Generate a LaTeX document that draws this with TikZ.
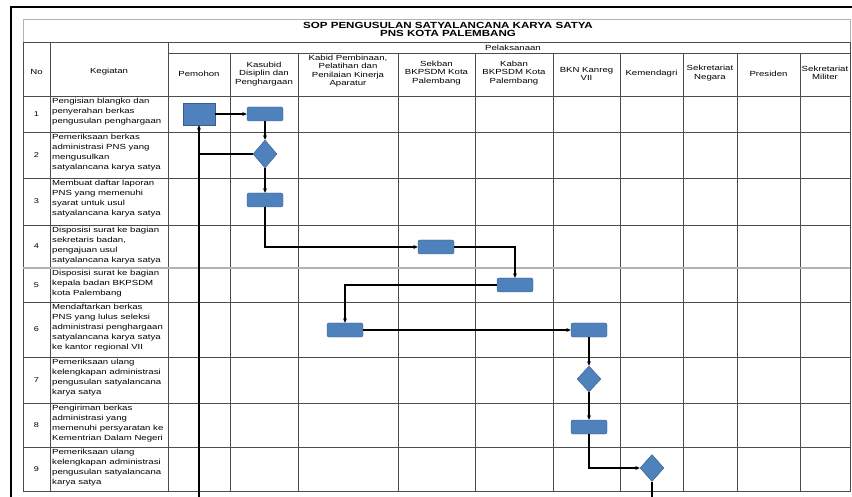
\documentclass[tikz,border=0pt]{standalone}
\usepackage{fontspec}
\setmainfont{Liberation Sans}
\newfontfamily\cellfont[FakeStretch=1.3]{Liberation Sans}
\usetikzlibrary{arrows.meta,positioning,shapes.geometric}
\definecolor{boxblue}{RGB}{79,129,189}
\definecolor{boxedge}{RGB}{56,93,138}

\begin{document}
\begin{tikzpicture}[
  x=1pt,y=-1pt,
  >={Stealth[length=4.5pt,width=4pt]},
  grid/.style={draw=black!70,line width=0.8pt},
  faint/.style={draw=black!30,line width=0.8pt},
  box/.style={rectangle,draw=boxedge,fill=boxblue,rounded corners=2pt,minimum width=36pt,minimum height=14pt,inner sep=0pt},
  dec/.style={diamond,draw=boxedge,fill=boxblue,minimum width=24pt,minimum height=28pt,inner sep=0pt},
  e/.style={->,line width=1.2pt},
  ln/.style={line width=1.2pt},
  hd/.style={align=center,inner sep=0pt,font=\cellfont\fontsize{7.4}{8.5}\selectfont},
  kgt/.style={anchor=north west,align=left,inner sep=0pt,font=\cellfont\fontsize{7.4}{10}\selectfont},
  num/.style={inner sep=0pt,font=\cellfont\fontsize{7}{8}\selectfont}
]
\useasboundingbox (0,0) rectangle (852,497);
\draw[line width=2pt] (11,497) -- (11,7) -- (852,7);

\draw[faint] (23,42) -- (23,19) -- (850,19) -- (850,42);
\draw[grid] (23,42) rectangle (850,491);
\draw[grid] (50,42) -- (50,491);
\draw[grid] (168,42) -- (168,491);
\draw[grid] (168,53) -- (850,53);
\draw[grid] (23,96) -- (850,96);
\foreach \x in {230,298,398,475,553,620,683,737,800}
  \draw[grid] (\x,53) -- (\x,491);
\foreach \y in {132,178,225,302,357,403,447}
  \draw[grid] (23,\y) -- (850,\y);
\draw[draw=black!30,line width=1.5pt] (23,268) -- (850,268);

\node[inner sep=0pt,align=center,font=\cellfont\bfseries\fontsize{8.9}{8}\selectfont] (title) at (448,29.5)
  {SOP PENGUSULAN SATYALANCANA KARYA SATYA\\PNS KOTA PALEMBANG};
\node[hd] (h-pel) at (513,47.5) {Pelaksanaan};
\node[hd] (h-no) at (36.5,72) {No};
\node[hd] (h-keg) at (109,72) {Kegiatan};
\node[hd] (h-pem) at (199,74) {Pemohon};
\node[hd] (h-kas) at (264,74) {Kasubid\\Disiplin dan\\Penghargaan};
\node[hd] (h-kab) at (348,71) {Kabid Pembinaan,\\Pelatihan dan\\Penilaian Kinerja\\Aparatur};
\node[hd] (h-sek) at (436.5,73) {Sekban\\BKPSDM Kota\\Palembang};
\node[hd] (h-kbn) at (514,73) {Kaban\\BKPSDM Kota\\Palembang};
\node[hd] (h-bkn) at (586.5,74) {BKN Kanreg\\VII};
\node[hd] (h-kmd) at (651.5,74) {Kemendagri};
\node[hd] (h-skn) at (710,73) {Sekretariat\\Negara};
\node[hd] (h-pre) at (768.5,74) {Presiden};
\node[hd] (h-skm) at (825,73) {Sekretariat\\Militer};

\foreach \i/\ra/\rb/\txt in {
  1/96/132/{Pengisian blangko dan\\penyerahan berkas\\pengusulan penghargaan},
  2/132/178/{Pemeriksaan berkas\\administrasi PNS yang\\mengusulkan\\satyalancana karya satya},
  3/178/225/{Membuat daftar laporan\\PNS yang memenuhi\\syarat untuk usul\\satyalancana karya satya},
  4/225/268/{Disposisi surat ke bagian\\sekretaris badan,\\pengajuan usul\\satyalancana karya satya},
  5/268/302/{Disposisi surat ke bagian\\kepala badan BKPSDM\\kota Palembang},
  6/302/357/{Mendaftarkan berkas\\PNS yang lulus seleksi\\administrasi penghargaan\\satyalancana karya satya\\ke kantor regional VII},
  7/357/403/{Pemeriksaan ulang\\kelengkapan administrasi\\pengusulan satyalancana\\karya satya},
  8/403/447/{Pengiriman berkas\\administrasi yang\\memenuhi persyaratan ke\\Kementrian Dalam Negeri},
  9/447/491/{Pemeriksaan ulang\\kelengkapan administrasi\\pengusulan satyalancana\\karya satya}} {
  \node[num] (n\i) at (36.5,{(\ra+\rb)/2}) {\i};
  \node[kgt] (k\i) at (52,\ra+1.5) {\txt};
}

\node[box,rounded corners=0pt,minimum width=32pt,minimum height=22pt] (b1) at (199,114) {};
\node[box] (b2) at (265,114) {};
\node[dec] (d1) at (265,154) {};
\node[box] (b3) at (265,200) {};
\node[box] (b4) at (436,247) {};
\node[box] (b5) at (515,285) {};
\node[box] (b6) at (345,330) {};
\node[box] (b7) at (589,330) {};
\node[dec,minimum height=26pt] (d2) at (589,379) {};
\node[box] (b8) at (589,427) {};
\node[dec,minimum height=27pt] (d3) at (652,468) {};
\coordinate (fb) at (199,497);
\coordinate (d3out) at (652,497);

\draw[e] (b1) -- (b2);
\draw[e] (b2) -- (d1);
\draw[e] (d1) -- (b3);
\draw[e] (b3) |- (b4);
\draw[e] (b4) -| (b5);
\draw[e] (b5) -| (b6);
\draw[e] (b6) -- (b7);
\draw[e] (b7) -- (d2);
\draw[e] (d2) -- (b8);
\draw[e] (b8) |- (d3);
\draw[ln] (d3) -- (d3out);
\draw[e] (fb) -- (b1);
\draw[ln] (d1.west) -- (d1.west -| fb);
\end{tikzpicture}
\end{document}
